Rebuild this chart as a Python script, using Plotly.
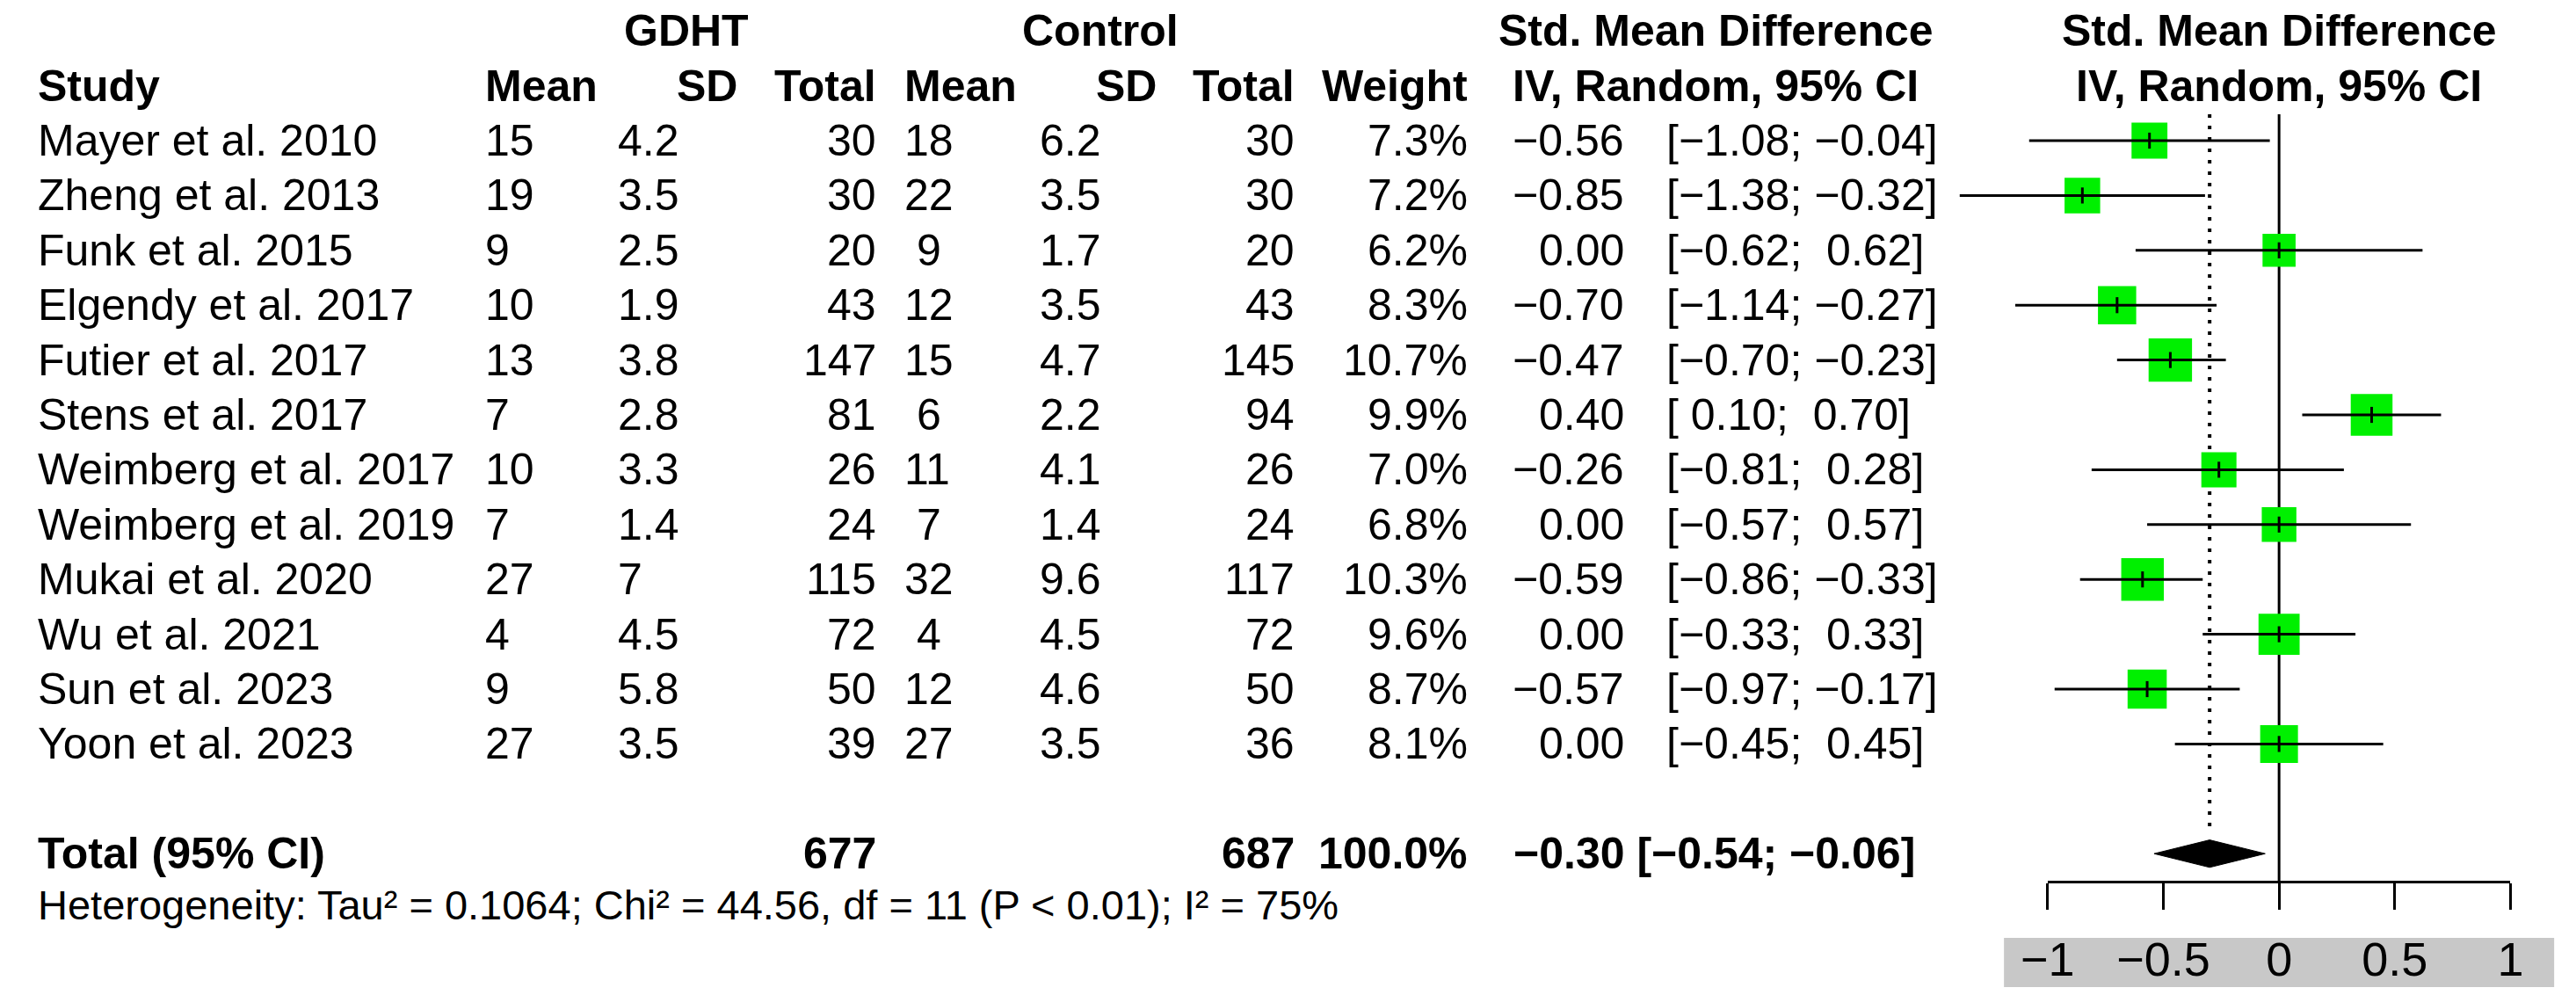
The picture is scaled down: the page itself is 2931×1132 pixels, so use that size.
import math
import plotly.graph_objects as go

# ---------------- data ----------------
studies = ["Mayer et al. 2010", "Zheng et al. 2013", "Funk et al. 2015", "Elgendy et al. 2017",
           "Futier et al. 2017", "Stens et al. 2017", "Weimberg et al. 2017", "Weimberg et al. 2019",
           "Mukai et al. 2020", "Wu et al. 2021", "Sun et al. 2023", "Yoon et al. 2023"]
gdht_mean = [15, 19, 9, 10, 13, 7, 10, 7, 27, 4, 9, 27]
gdht_sd = [4.2, 3.5, 2.5, 1.9, 3.8, 2.8, 3.3, 1.4, 7, 4.5, 5.8, 3.5]
gdht_n = [30, 30, 20, 43, 147, 81, 26, 24, 115, 72, 50, 39]
ctrl_mean = [18, 22, 9, 12, 15, 6, 11, 7, 32, 4, 12, 27]
ctrl_sd = [6.2, 3.5, 1.7, 3.5, 4.7, 2.2, 4.1, 1.4, 9.6, 4.5, 4.6, 3.5]
ctrl_n = [30, 30, 20, 43, 145, 94, 26, 24, 117, 72, 50, 36]
weight = [7.3, 7.2, 6.2, 8.3, 10.7, 9.9, 7.0, 6.8, 10.3, 9.6, 8.7, 8.1]
smd = [-0.56, -0.85, 0.00, -0.70, -0.47, 0.40, -0.26, 0.00, -0.59, 0.00, -0.57, 0.00]
ci_lo = [-1.08, -1.38, -0.62, -1.14, -0.70, 0.10, -0.81, -0.57, -0.86, -0.33, -0.97, -0.45]
ci_hi = [-0.04, -0.32, 0.62, -0.27, -0.23, 0.70, 0.28, 0.57, -0.33, 0.33, -0.17, 0.45]
total_gdht, total_ctrl, total_weight = 677, 687, 100.0
pooled, pooled_lo, pooled_hi = -0.30, -0.54, -0.06
heterogeneity = "Heterogeneity: Tau\u00b2 = 0.1064; Chi\u00b2 = 44.56, df = 11 (P < 0.01); I\u00b2 = 75%"
axis_ticks = [-1, -0.5, 0, 0.5, 1]

# ---------------- layout geometry ----------------
W, H = 2931, 1132
X0, U = 2603.0, 267.5      # pixel of SMD 0, pixels per SMD unit
Y0, DY = 160.0, 62.4       # pixel of first study row, pixels per row
FONT = "Liberation Sans, Arial, sans-serif"
FS = 50
NBSP = "\u00a0"
MINUS = "\u2212"

n = len(studies)
row_total = n + 1
row_het = (1029 - Y0) / DY
row_axis = (1003 - Y0) / DY
row_top = (130 - Y0) / DY


def fmt(v, d=2):
    s = f"{abs(v):.{d}f}"
    return (MINUS + s) if v < 0 else s


def pad(v):
    return fmt(v) if v < 0 else NBSP + fmt(v)


def num(v):
    return f"{v:g}"


fig = go.Figure()

# reference lines
fig.add_trace(go.Scatter(x=[0, 0], y=[row_top, row_axis], mode="lines",
                         line=dict(color="black", width=3), hoverinfo="skip"))
fig.add_trace(go.Scatter(x=[pooled, pooled], y=[row_top, row_total - 0.37], mode="lines",
                         line=dict(color="black", width=4, dash="4px,9px"), hoverinfo="skip"))

# squares
rows = list(range(n))
fig.add_trace(go.Scatter(x=smd, y=rows, mode="markers",
                         marker=dict(symbol="square", color="#00f000", opacity=1,
                                     size=[15.1 * math.sqrt(w) for w in weight],
                                     line=dict(width=0)),
                         hoverinfo="skip"))

# CI lines
cx, cy = [], []
for i in range(n):
    cx += [ci_lo[i], ci_hi[i], None]
    cy += [i, i, None]
fig.add_trace(go.Scatter(x=cx, y=cy, mode="lines", line=dict(color="black", width=3),
                         hoverinfo="skip"))

# estimate ticks
fig.add_trace(go.Scatter(x=smd, y=rows, mode="markers",
                         marker=dict(symbol="line-ns", size=13, color="black",
                                     line=dict(width=3, color="black")),
                         hoverinfo="skip"))

# pooled diamond
hh = 0.25
fig.add_trace(go.Scatter(x=[pooled_lo, pooled, pooled_hi, pooled, pooled_lo],
                         y=[row_total, row_total - hh, row_total, row_total + hh, row_total],
                         mode="lines", fill="toself", fillcolor="black",
                         line=dict(color="black", width=1), hoverinfo="skip"))

# invisible trace to register bottom axis
fig.add_trace(go.Scatter(x=[-1, 1], y=[row_axis, row_axis], xaxis="x2", yaxis="y",
                         mode="lines", line=dict(width=0), opacity=0, hoverinfo="skip"))

ann = []


def txt(px, row, s, anchor="left", bold=False, size=FS):
    ann.append(dict(x=px / W, xref="paper", y=row, yref="y", text=(f"<b>{s}</b>" if bold else s),
                    showarrow=False, xanchor=anchor, yanchor="middle",
                    font=dict(family=FONT, size=size, color="black")))


# headers
txt(762, -2, "GDHT", "center", True)
txt(1240, -2, "Control", "center", True)
txt(1952, -2, "Std. Mean Difference", "center", True)
txt(X0, -2, "Std. Mean Difference", "center", True)
txt(10, -1, "Study", "left", True)
txt(527, -1, "Mean", "left", True)
txt(823, -1, "SD", "right", True)
txt(983, -1, "Total", "right", True)
txt(1012, -1, "Mean", "left", True)
txt(1308, -1, "SD", "right", True)
txt(1467, -1, "Total", "right", True)
txt(1667, -1, "Weight", "right", True)
txt(1952, -1, "IV, Random, 95% CI", "center", True)
txt(X0, -1, "IV, Random, 95% CI", "center", True)

for i in range(n):
    txt(10, i, studies[i])
    txt(527, i, num(gdht_mean[i]))
    txt(681, i, num(gdht_sd[i]))
    txt(983, i, num(gdht_n[i]), "right")
    cm = num(ctrl_mean[i])
    txt(1012, i, (NBSP + cm) if len(cm) == 1 else cm)
    txt(1168, i, num(ctrl_sd[i]))
    txt(1467, i, num(ctrl_n[i]), "right")
    txt(1667, i, f"{weight[i]:.1f}%", "right")
    txt(1848, i, fmt(smd[i]), "right")
    txt(1893, i, f"[{pad(ci_lo[i])};{NBSP}{pad(ci_hi[i])}]")

txt(10, row_total, "Total (95% CI)", "left", True)
txt(983, row_total, str(total_gdht), "right", True)
txt(1467, row_total, str(total_ctrl), "right", True)
txt(1667, row_total, f"{total_weight:.1f}%", "right", True)
txt(1716, row_total, f"{fmt(pooled)} [{fmt(pooled_lo)}; {fmt(pooled_hi)}]", "left", True)
txt(10, row_het, heterogeneity, "left", False, 47)

fig.update_layout(
    width=W, height=H, margin=dict(l=0, r=0, t=0, b=0),
    paper_bgcolor="white", plot_bgcolor="rgba(0,0,0,0)", showlegend=False,
    xaxis=dict(domain=[0, 1], range=[(0 - X0) / U, (W - X0) / U], visible=False, fixedrange=True),
    yaxis=dict(domain=[0, 1], range=[(H - Y0) / DY, (0 - Y0) / DY], visible=False, fixedrange=True),
    xaxis2=dict(domain=[(X0 - U) / W, (X0 + U) / W], range=[-1, 1], anchor="free",
                position=(H - 1003) / H, showline=True, linecolor="black", linewidth=3,
                ticks="outside", ticklen=30, tickwidth=3, tickcolor="black",
                tickvals=axis_ticks, showgrid=False, zeroline=False, fixedrange=True,
                tickfont=dict(family=FONT, size=54, color="black"), ticklabelstandoff=10),
    annotations=ann,
    shapes=[dict(type="rect", xref="paper", yref="paper", x0=2285 / W, x1=2921 / W,
                 y0=1 - 1123 / H, y1=1 - 1067 / H, fillcolor="#c8c8c8",
                 line=dict(width=0), layer="below")],
)

fig.write_html("out.html", config={"displayModeBar": False, "staticPlot": True},
               post_script="document.body.style.margin='0';")
